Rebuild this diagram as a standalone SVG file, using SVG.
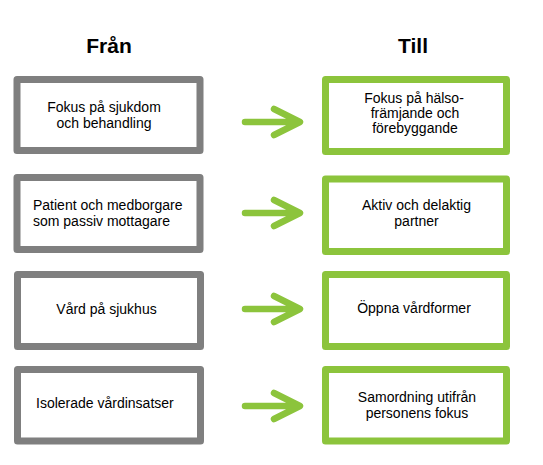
<svg xmlns="http://www.w3.org/2000/svg" width="543" height="465" viewBox="0 0 543 465">
<style>
.t{font-family:"Liberation Sans",Arial,sans-serif;font-size:14px;fill:#000}
.h{font-family:"Liberation Sans",Arial,sans-serif;font-size:21px;font-weight:bold;fill:#000;text-anchor:middle}
.m{text-anchor:middle}
.g{fill:#fff;stroke:#7f7f7f;stroke-width:7;stroke-linejoin:round}
.n{fill:#fff;stroke:#8cc43c;stroke-width:7;stroke-linejoin:round}
.a{fill:none;stroke:#8cc43c;stroke-width:6.5;stroke-linecap:round;stroke-linejoin:round}
</style>
<rect width="543" height="465" fill="#fff"/>
<text class="h" x="109" y="53">Från</text>
<text class="h" x="413" y="53">Till</text>
<g id="from1"><rect class="g" x="17" y="79.5" width="183" height="71"/><text class="t m" x="104" y="112">Fokus på sjukdom</text><text class="t m" x="104" y="128">och behandling</text></g>
<g id="from2"><rect class="g" x="17" y="177.5" width="183" height="72"/><text class="t" x="33" y="209.5">Patient och medborgare</text><text class="t" x="33" y="225.5">som passiv mottagare</text></g>
<g id="from3"><rect class="g" x="17.5" y="274.5" width="183" height="72"/><text class="t m" x="106.5" y="314">Vård på sjukhus</text></g>
<g id="from4"><rect class="g" x="17.5" y="369.5" width="183" height="71.5"/><text class="t" x="36" y="408">Isolerade vårdinsatser</text></g>
<g id="to1"><rect class="n" x="325.5" y="79.5" width="181" height="72"/><text class="t m" x="414" y="103">Fokus på hälso-</text><text class="t m" x="415" y="118">främjande och</text><text class="t m" x="415" y="133">förebyggande</text></g>
<g id="to2"><rect class="n" x="325.5" y="179" width="181" height="72.5"/><text class="t m" x="416.5" y="210">Aktiv och delaktig</text><text class="t m" x="416.5" y="226">partner</text></g>
<g id="to3"><rect class="n" x="325.5" y="274.5" width="181" height="72"/><text class="t m" x="414" y="313">Öppna vårdformer</text></g>
<g id="to4"><rect class="n" x="325.5" y="369.5" width="181" height="71.5"/><text class="t m" x="417" y="402">Samordning  utifrån</text><text class="t m" x="417" y="418">personens fokus</text></g>
<g id="connectors">
<path class="a" d="M245 122H299M274 109L300 122L274 135"/>
<path class="a" d="M245 213H299M274 200L300 213L274 226"/>
<path class="a" d="M245 309H299M274 296L300 309L274 322"/>
<path class="a" d="M245 406H299M274 393L300 406L274 419"/>
</g>
</svg>
